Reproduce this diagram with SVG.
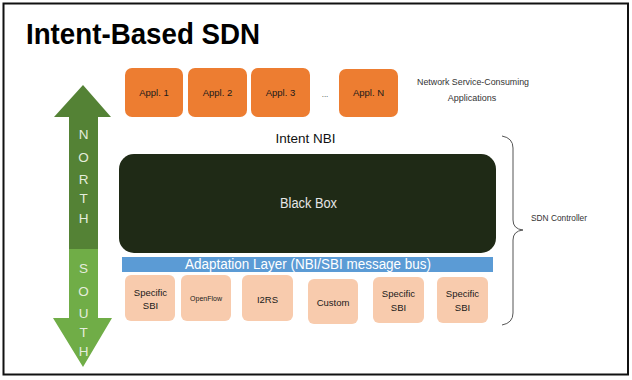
<svg xmlns="http://www.w3.org/2000/svg" width="632" height="380" viewBox="0 0 632 380">
  <style>
    .app { fill: #ED7D31; }
    .app-t { font-family: "Liberation Sans", Arial, sans-serif; font-size: 9.5px; fill: #1a1a1a; text-anchor: middle; }
    .sbi { fill: #F8CBAD; }
    .sbi-t { font-family: "Liberation Sans", Arial, sans-serif; font-size: 9.5px; fill: #1a1a1a; text-anchor: middle; }
    .sbi-s { font-size: 7px; }
    .note { font-family: "Liberation Sans", Arial, sans-serif; font-size: 9px; fill: #333; text-anchor: middle; }
    .dir { font-family: "Liberation Sans", Arial, sans-serif; font-size: 13.5px; fill: #E4ECDC; text-anchor: middle; }
  </style>

  <rect x="0" y="0" width="632" height="380" fill="#ffffff"/>
  <!-- slide frame -->
  <rect x="3.5" y="3.5" width="624.5" height="371" fill="none" stroke="#111" stroke-width="2"/>

  <text x="26" y="44" font-family="Liberation Sans, Arial, sans-serif" font-weight="bold" font-size="30" fill="#000" textLength="234" lengthAdjust="spacingAndGlyphs">Intent-Based SDN</text>

  <!-- north/south double arrow -->
  <g id="north-south">
    <polygon points="83,85 111,117 98,117 98,249 69,249 69,117 54,117" fill="#548235"/>
    <polygon points="69,249 98,249 98,318 112,318 83,367 53,318 69,318" fill="#70AD47"/>
    <text class="dir" x="83.5" y="139">N</text>
    <text class="dir" x="83.5" y="162">O</text>
    <text class="dir" x="83.5" y="184">R</text>
    <text class="dir" x="83.5" y="203">T</text>
    <text class="dir" x="83.5" y="223">H</text>
    <text class="dir" x="83.5" y="273">S</text>
    <text class="dir" x="83.5" y="296">O</text>
    <text class="dir" x="83.5" y="318">U</text>
    <text class="dir" x="83.5" y="337">T</text>
    <text class="dir" x="83.5" y="356">H</text>
  </g>

  <!-- applications -->
  <g id="appl-1"><rect class="app" x="125" y="68" width="58" height="49" rx="7"/><text class="app-t" x="154" y="96">Appl. 1</text></g>
  <g id="appl-2"><rect class="app" x="188" y="68" width="59" height="49" rx="7"/><text class="app-t" x="217.5" y="96">Appl. 2</text></g>
  <g id="appl-3"><rect class="app" x="251" y="68" width="59" height="49" rx="7"/><text class="app-t" x="280.5" y="96">Appl. 3</text></g>
  <text x="325" y="97" font-family="Liberation Sans, Arial, sans-serif" font-size="8" fill="#333" text-anchor="middle">...</text>
  <g id="appl-n"><rect class="app" x="339" y="69" width="59" height="48" rx="7"/><text class="app-t" x="368.5" y="96">Appl. N</text></g>
  <text class="note" x="473" y="85" textLength="112" lengthAdjust="spacingAndGlyphs">Network Service-Consuming</text>
  <text class="note" x="472" y="101">Applications</text>

  <text x="305.5" y="143" font-family="Liberation Sans, Arial, sans-serif" font-size="13.5" fill="#111" text-anchor="middle">Intent NBI</text>

  <!-- controller core -->
  <g id="black-box">
    <rect x="119" y="154" width="377" height="99" rx="15" fill="#1F2A16"/>
    <text x="308.5" y="208" font-family="Liberation Sans, Arial, sans-serif" font-size="14" fill="#E6E6E6" text-anchor="middle" textLength="57" lengthAdjust="spacingAndGlyphs">Black Box</text>
  </g>

  <g id="adaptation-layer">
    <rect x="122" y="257" width="371" height="15" fill="#5B9BD5"/>
    <text x="308" y="269" font-family="Liberation Sans, Arial, sans-serif" font-size="14" fill="#ffffff" text-anchor="middle" textLength="246" lengthAdjust="spacingAndGlyphs">Adaptation Layer (NBI/SBI message bus)</text>
  </g>

  <!-- southbound interfaces -->
  <g id="sbi-1"><rect class="sbi" x="125" y="275" width="50" height="46" rx="6"/><text class="sbi-t" x="150.5" y="296">Specific</text><text class="sbi-t" x="150.5" y="309">SBI</text></g>
  <g id="openflow"><rect class="sbi" x="181" y="275" width="50" height="46" rx="6"/><text class="sbi-t sbi-s" x="206" y="301">OpenFlow</text></g>
  <g id="i2rs"><rect class="sbi" x="242" y="275" width="51" height="46" rx="6"/><text class="sbi-t" x="267.5" y="303">I2RS</text></g>
  <g id="custom"><rect class="sbi" x="308" y="279" width="50" height="45" rx="6"/><text class="sbi-t" x="333" y="305.5">Custom</text></g>
  <g id="sbi-2"><rect class="sbi" x="373" y="277" width="51" height="46" rx="6"/><text class="sbi-t" x="398.5" y="297">Specific</text><text class="sbi-t" x="398.5" y="311">SBI</text></g>
  <g id="sbi-3"><rect class="sbi" x="437" y="277" width="51" height="46" rx="6"/><text class="sbi-t" x="462.5" y="297">Specific</text><text class="sbi-t" x="462.5" y="311">SBI</text></g>

  <!-- controller brace -->
  <g id="connectors">
    <path d="M502,136 Q513,138 513,148 L513,220 Q513,229 523,230 Q513,231 513,240 L513,313 Q513,323 502,325" fill="none" stroke="#555" stroke-width="1"/>
  </g>
  <text x="559" y="221" font-family="Liberation Sans, Arial, sans-serif" font-size="9" fill="#333" text-anchor="middle" textLength="56" lengthAdjust="spacingAndGlyphs">SDN Controller</text>
</svg>
